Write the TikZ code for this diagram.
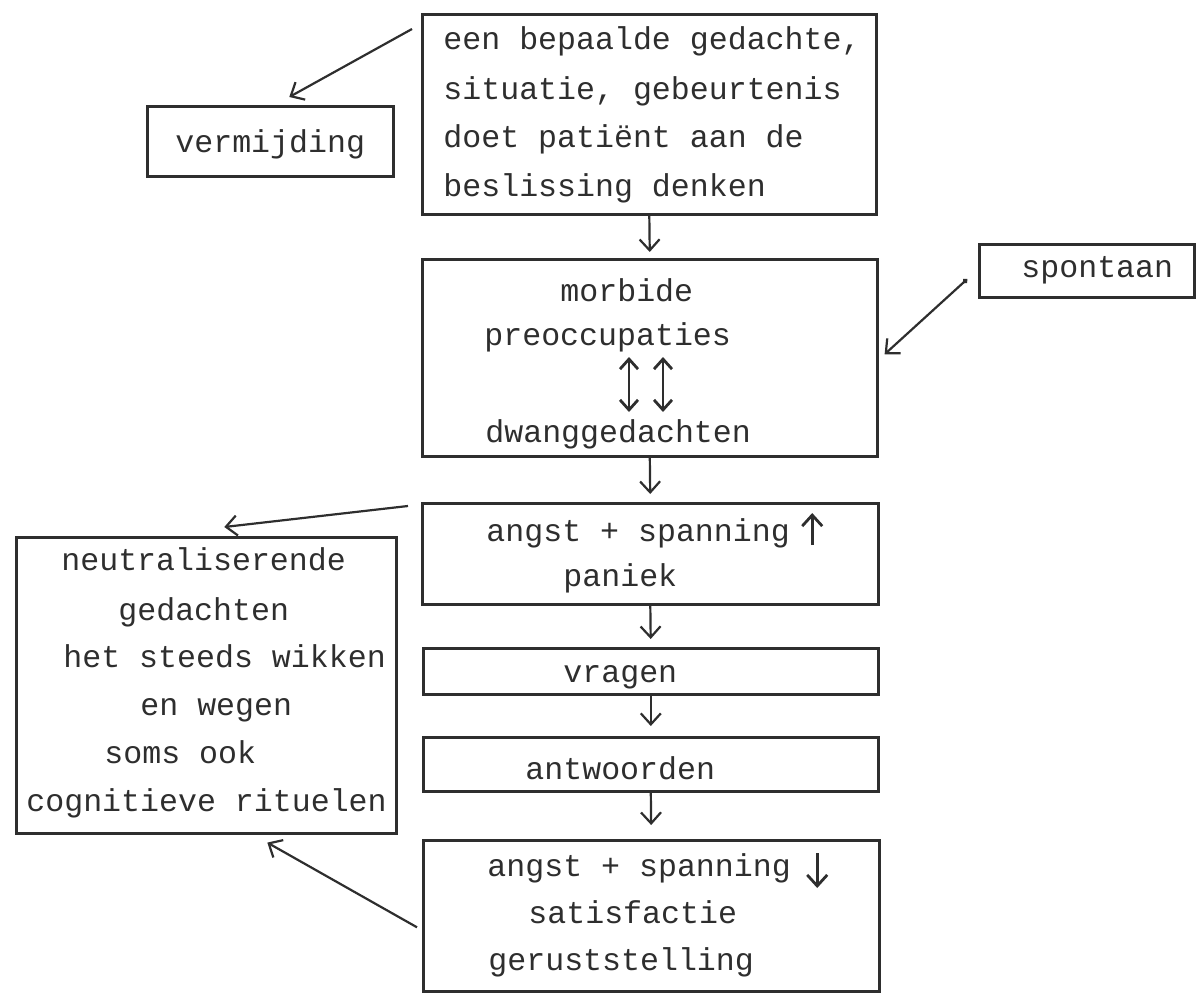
\documentclass[tikz,border=0pt]{standalone}
\usepackage{fontspec}
\newfontfamily\typewriter{Liberation Mono}
\usetikzlibrary{arrows.meta}
\definecolor{ink}{HTML}{2E2E2E}

\tikzset{
  flowbox/.style={draw=ink, line width=1.3pt, inner sep=0pt, anchor=north west},
  typed/.style={text=ink, font=\typewriter\fontsize{15.8pt}{19pt}\selectfont, inner sep=0pt, anchor=base west},
  flow/.style={draw=ink, line width=1.1pt, -{Straight Barb[length=5.5pt,width=10pt]}},
  twoway/.style={draw=ink, line width=1.4pt, {Straight Barb[length=5pt,width=9pt]}-{Straight Barb[length=5pt,width=9pt]}},
}

\begin{document}
\begin{tikzpicture}[x=0.5pt, y=-0.5pt]
  \useasboundingbox (0,0) rectangle (1197,994);

  % Boxes (top left corner, sizes in pt)
  \node[flowbox, minimum width=227pt, minimum height=100pt] (trigger) at (421,13) {};
  \node[flowbox, minimum width=123pt, minimum height=35pt] (avoid) at (146,105) {};
  \node[flowbox, minimum width=227.5pt, minimum height=98.5pt] (preocc) at (421,258) {};
  \node[flowbox, minimum width=107.5pt, minimum height=26.5pt] (spont) at (978,243) {};
  \node[flowbox, minimum width=228pt, minimum height=50.5pt] (rise) at (421,502) {};
  \node[flowbox, minimum width=227.5pt, minimum height=23pt] (ask) at (422,647) {};
  \node[flowbox, minimum width=227.5pt, minimum height=27pt] (answer) at (422,736) {};
  \node[flowbox, minimum width=228pt, minimum height=75.5pt] (calm) at (422,839) {};
  \node[flowbox, minimum width=190pt, minimum height=148pt] (neutral) at (15,536) {};

  % Typed lines
  \node[typed] (g1) at (443,50) {een bepaalde gedachte,};
  \node[typed] (g2) at (443,100) {situatie, gebeurtenis};
  \node[typed] (g3) at (443,148) {doet patiënt aan de};
  \node[typed] (g4) at (443,197) {beslissing denken};

  \node[typed] (v1) at (175,153) {vermijding};
  \node[typed] (s1) at (1021,278) {spontaan};

  \node[typed] (p1) at (560,301) {morbide};
  \node[typed] (p2) at (484,345) {preoccupaties};
  \node[typed] (p3) at (485,442) {dwanggedachten};

  \node[typed] (r1) at (486,541) {angst + spanning};
  \node[typed] (r2) at (563,586) {paniek};

  \node[typed] (q1) at (563,682) {vragen};
  \node[typed] (a1) at (525,779) {antwoorden};

  \node[typed] (c1) at (487,876) {angst + spanning};
  \node[typed] (c2) at (528,923) {satisfactie};
  \node[typed] (c3) at (488,970) {geruststelling};

  \node[typed] (n1) at (61,570) {neutraliserende};
  \node[typed] (n2) at (118,620) {gedachten};
  \node[typed] (n3) at (63,667) {het steeds wikken};
  \node[typed] (n4) at (140,715) {en wegen};
  \node[typed] (n5) at (104,763) {soms ook};
  \node[typed] (n6) at (26,811) {cognitieve rituelen};

  % Main chain
  \draw[flow, shorten >=3pt] (trigger.south) -- (preocc.north);
  \draw[flow, shorten >=4pt] (preocc.south) -- (rise.north);
  \draw[flow, shorten >=4pt] (rise.south) -- (ask.north);
  \draw[flow, shorten >=5pt] (ask.south) -- (answer.north);
  \draw[flow, shorten >=7pt] (answer.south) -- (calm.north);

  % Side arrows
  \draw[flow] ([shift={(-9,16)}]trigger.north west) -- ([shift={(19,-8)}]avoid.north);
  \draw[flow, {Circle[length=2.5pt]}-{Straight Barb[length=5.5pt,width=10pt]}] ([shift={(-11,8.5)}]spont.west) -- ([shift={(6,-3.5)}]preocc.east);
  \draw[flow] ([shift={(-13,4)}]rise.north west) -- ([shift={(18,-9)}]neutral.north);
  \draw[flow] ([shift={(-5,11.5)}]calm.west) -- ([shift={(61,8)}]neutral.south);

  % Arrows inside the boxes
  \draw[twoway] ([shift={(145,12)}]p2.base west) -- ([shift={(144,-30)}]p3.base west);
  \draw[twoway] ([shift={(179,12)}]p2.base west) -- ([shift={(178,-30)}]p3.base west);
  \draw[flow, line width=1.4pt] ([shift={(22,4)}]r1.base east) -- ([shift={(22,-28)}]r1.base east);
  \draw[flow, line width=1.4pt] ([shift={(26,-23)}]c1.base east) -- ([shift={(26,12)}]c1.base east);

\end{tikzpicture}
\end{document}
